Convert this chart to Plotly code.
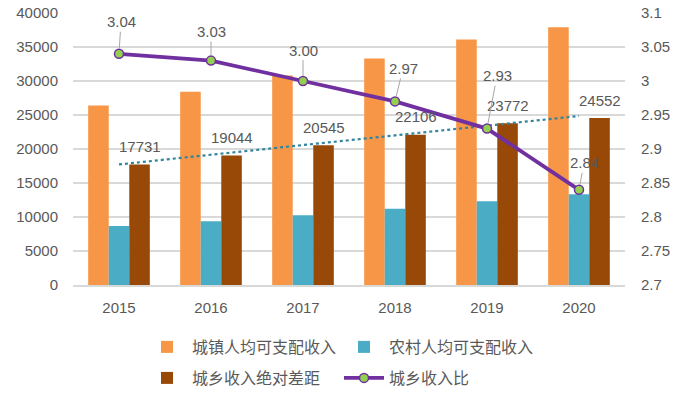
import numpy as np
import plotly.graph_objects as go

years = ["2015", "2016", "2017", "2018", "2019", "2020"]
urban = [26415, 28424, 30818, 33327, 36089, 37895]
rural = [8684, 9380, 10273, 11221, 12317, 13343]
gap = [17731, 19044, 20545, 22106, 23772, 24552]
ratio = [3.04, 3.03, 3.00, 2.97, 2.93, 2.84]
ratio_text = ["3.04", "3.03", "3.00", "2.97", "2.93", "2.84"]

idx = np.arange(len(years))
slope, intercept = np.polyfit(idx, gap, 1)
trend = slope * idx + intercept

FONT = "Liberation Sans, Arial, sans-serif"
CJK = "Noto Sans CJK SC"
GRAY = "#595959"

fig = go.Figure()
fig.add_trace(go.Bar(x=years, y=urban, name="城镇人均可支配收入", marker_color="#F79646",
                     marker_line_width=0, legend="legend"))
fig.add_trace(go.Bar(x=years, y=rural, name="农村人均可支配收入", marker_color="#4BACC6",
                     marker_line_width=0, legend="legend"))
fig.add_trace(go.Bar(x=years, y=gap, name="城乡收入绝对差距", marker_color="#984807",
                     marker_line_width=0, legend="legend2"))
fig.add_trace(go.Scatter(x=years, y=trend, mode="lines", showlegend=False,
                         line=dict(color="#31859C", width=2.2, dash="dot"), hoverinfo="skip"))
fig.add_trace(go.Scatter(x=years, y=ratio, name="城乡收入比", yaxis="y2", mode="lines+markers",
                         legend="legend2",
                         line=dict(color="#7030A0", width=3.8),
                         marker=dict(color="#92D050", size=9, line=dict(color="#7030A0", width=1.5))))

annotations = []
bw = 0.2246
for i, v in enumerate(gap):
    annotations.append(dict(x=i + bw, y=v, xref="x", yref="y",
                            text=str(v), showarrow=False, yshift=18,
                            font=dict(family=FONT, size=15, color=GRAY)))

ratio_off = [(2, -32), (0, -29), (0, -31), (8, -33), (10, -53), (5, -27)]
for i, (v, t) in enumerate(zip(ratio, ratio_text)):
    ax, ay = ratio_off[i]
    annotations.append(dict(x=i, y=v, xref="x", yref="y2", text=t, showarrow=True,
                            arrowhead=0, arrowwidth=1, arrowcolor="#A6A6A6", ax=ax, ay=ay,
                            standoff=5, font=dict(family=FONT, size=15, color=GRAY)))

leg_common = dict(orientation="h", xanchor="left", yanchor="middle", yref="container",
                  xref="container", entrywidth=142, entrywidthmode="pixels",
                  traceorder="normal", font=dict(family=CJK, size=16, color=GRAY),
                  itemwidth=40, bgcolor="rgba(0,0,0,0)")

fig.update_layout(
    width=686, height=403,
    margin=dict(l=73, r=61, t=13, b=118, autoexpand=False),
    paper_bgcolor="white", plot_bgcolor="white",
    barmode="group", bargap=0.33, bargroupgap=0,
    font=dict(family=FONT, size=15, color=GRAY),
    xaxis=dict(type="category", showgrid=False, showline=True, linecolor="#D9D9D9",
               linewidth=1.5, ticks="", tickfont=dict(family=FONT, size=15, color=GRAY),
               ticklabelstandoff=8),
    yaxis=dict(range=[0, 40000], dtick=5000, showgrid=True, gridcolor="#D9D9D9",
               gridwidth=1.5, zeroline=False, showline=False, ticks="", tickformat="d",
               tickfont=dict(family=FONT, size=15, color=GRAY), ticklabelstandoff=14),
    yaxis2=dict(range=[2.7, 3.1], dtick=0.05, overlaying="y", side="right", showgrid=False,
                zeroline=False, showline=False, ticks="", tickformat="~g",
                tickfont=dict(family=FONT, size=15, color=GRAY), ticklabelstandoff=15),
    legend=dict(leg_common, x=142 / 686, y=1 - 347 / 403),
    legend2=dict(leg_common, x=142 / 686, y=1 - 378 / 403),
    annotations=annotations,
    showlegend=True,
)

fig.write_html("out.html", config={"displayModeBar": False})

with open("out.html", "r", encoding="utf-8") as f:
    html = f.read()
html = html.replace("<head>", "<head><style>html,body{margin:0;padding:0;}</style>", 1)
with open("out.html", "w", encoding="utf-8") as f:
    f.write(html)
